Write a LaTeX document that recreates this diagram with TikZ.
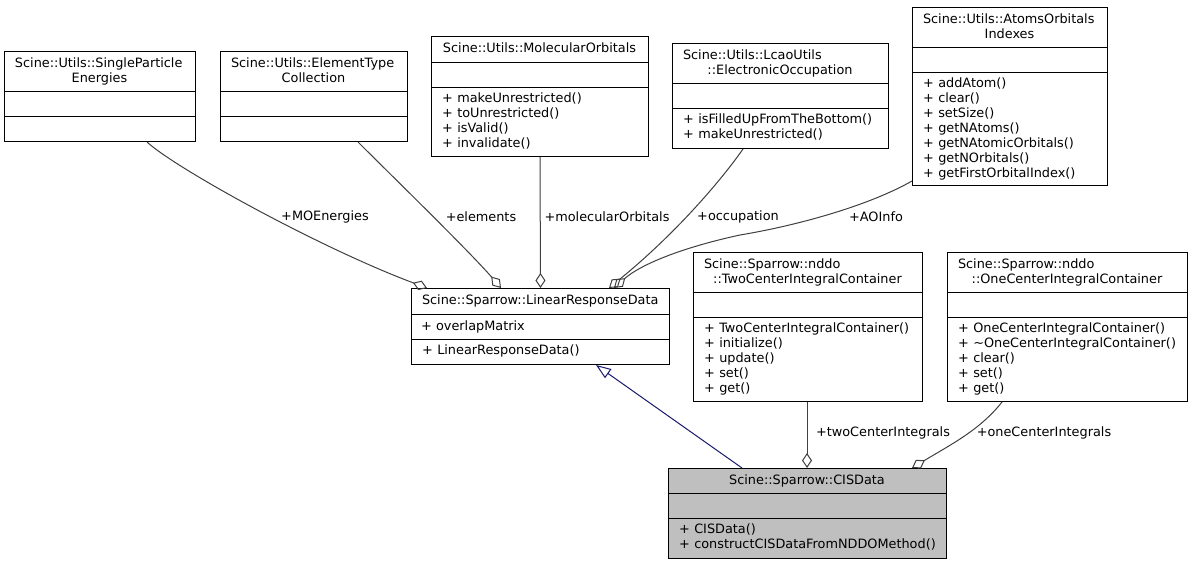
\documentclass[tikz,border=0pt]{standalone}
\usepackage{fontspec}
\setmainfont{DejaVu Sans}
\usetikzlibrary{arrows.meta}

\definecolor{kantengrau}{HTML}{404040}
\definecolor{erbblau}{HTML}{191970}
\definecolor{cisgrau}{HTML}{BFBFBF}

% Klassenkasten: Name, links, rechts, oben, Trenner 1, Trenner 2, unten, Titel, Methoden
\newcommand{\klasse}[9]{%
  \pgfmathsetmacro\kbreite{#3-#2}
  \pgfmathsetmacro\khoehe{#7-#4}
  \pgfmathsetmacro\ktext{#3-#2-22}
  \node[kasten, minimum width=\kbreite pt, minimum height=\khoehe pt] (#1) at (#2,#4) {};
  \draw[trenner] (#2,#5) -- (#3,#5) (#2,#6) -- (#3,#6);
  \node[titel, text width=\ktext pt] (#1titel) at ({(#2+#3)/2},{#4+16}) {#8};
  \node[liste, text width=\kbreite pt] (#1liste) at ({#2+11},{#6+15.5}) {#9};
}

\begin{document}
\begin{tikzpicture}[x=1pt, y=-1pt,
  font=\fontsize{12.85}{15}\selectfont,
  kasten/.style={draw, line width=1pt, fill=white, anchor=north west, inner sep=0pt},
  trenner/.style={line width=1pt},
  titel/.style={anchor=base, align=center, inner sep=0pt, font=\fontsize{12.85}{15.5}\selectfont},
  liste/.style={anchor=base west, align=left, inner sep=0pt},
  rolle/.style={inner sep=0pt},
  teil/.style={draw=kantengrau, line width=1pt, -{Diamond[open, length=15pt, width=10pt]}},
  erbt/.style={draw=erbblau, line width=1pt, -{Triangle[open, length=15pt, width=11pt]}}]
\useasboundingbox[fill=white] (0,0) rectangle (1192,565);

% obere Reihe
\klasse{spe}{4}{195}{51}{91}{116}{141}
  {\raggedright Scine::Utils::SingleParticle\par\centering Energies}{}
\klasse{etyp}{220}{407}{51}{91}{116}{141}
  {\raggedright Scine::Utils::ElementType\par\centering Collection}{}
\klasse{mo}{431}{648}{36}{62}{87}{156}
  {Scine::Utils::MolecularOrbitals}
  {+ makeUnrestricted()\\+ toUnrestricted()\\+ isValid()\\+ invalidate()}
\klasse{eo}{672}{888}{43}{83}{108}{148}
  {\raggedright Scine::Utils::LcaoUtils\par\centering ::ElectronicOccupation}
  {+ isFilledUpFromTheBottom()\\+ makeUnrestricted()}
\klasse{aoi}{912}{1107}{7}{47}{72}{185}
  {\raggedright Scine::Utils::AtomsOrbitals\par\centering Indexes}
  {+ addAtom()\\+ clear()\\+ setSize()\\+ getNAtoms()\\+ getNAtomicOrbitals()\\+ getNOrbitals()\\+ getFirstOrbitalIndex()}

% mittlere Reihe
\klasse{lrd}{411}{669}{288}{314}{339}{364}
  {Scine::Sparrow::LinearResponseData}{+ LinearResponseData()}
\node[liste] (lrdattr) at (421,330) {+ overlapMatrix};
\klasse{tcic}{693}{922}{252}{292}{317}{401}
  {\raggedright Scine::Sparrow::nddo\par\centering ::TwoCenterIntegralContainer}
  {+ TwoCenterIntegralContainer()\\+ initialize()\\+ update()\\+ set()\\+ get()}
\klasse{ocic}{947}{1187}{252}{292}{317}{401}
  {\raggedright Scine::Sparrow::nddo\par\centering ::OneCenterIntegralContainer}
  {+ OneCenterIntegralContainer()\\+ \textasciitilde OneCenterIntegralContainer()\\+ clear()\\+ set()\\+ get()}

% CISData
\begin{scope}[kasten/.append style={fill=cisgrau}]
\klasse{cis}{668}{946}{468}{493}{518}{558}
  {Scine::Sparrow::CISData}{+ CISData()\\+ constructCISDataFromNDDOMethod()}
\end{scope}

% Aggregationen nach LinearResponseData
\draw[teil] ([xshift=143pt]spe.south west) .. controls (175,168) and (320,248) .. ([xshift=16pt]lrd.north west);
\draw[teil] ([xshift=138pt]etyp.south west) .. controls (390,174) and (470,252) .. ([xshift=90pt]lrd.north west);
\draw[teil] ([xshift=109pt]mo.south west) -- (lrd.north);
\draw[teil] ([xshift=71pt]eo.south west) .. controls (725,175) and (680,230) .. ([xshift=198pt]lrd.north west);
\draw[teil] ([yshift=5pt]aoi.south west) .. controls (870,205) and (800,225) .. (740,235)
  .. controls (680,248) and (640,265) .. ([xshift=203pt]lrd.north west);
\node[rolle] (lmoe) at (325,217) {+MOEnergies};
\node[rolle] (lel) at (481,217) {+elements};
\node[rolle] (lmo) at (607,217) {+molecularOrbitals};
\node[rolle] (locc) at (738,217) {+occupation};
\node[rolle] (lao) at (876,217) {+AOInfo};

% Vererbung und Aggregationen nach CISData
\draw[erbt] ([xshift=74pt]cis.north west) -- ([xshift=185pt]lrd.south west);
\draw[teil] ([xshift=114pt]tcic.south west) -- ([xshift=139pt]cis.north west);
\draw[teil] ([xshift=55pt]ocic.south west) .. controls (980,430) and (950,445) .. ([xshift=244pt]cis.north west);
\node[rolle] (ltwo) at (883,433) {+twoCenterIntegrals};
\node[rolle] (lone) at (1044,433) {+oneCenterIntegrals};
\end{tikzpicture}
\end{document}
